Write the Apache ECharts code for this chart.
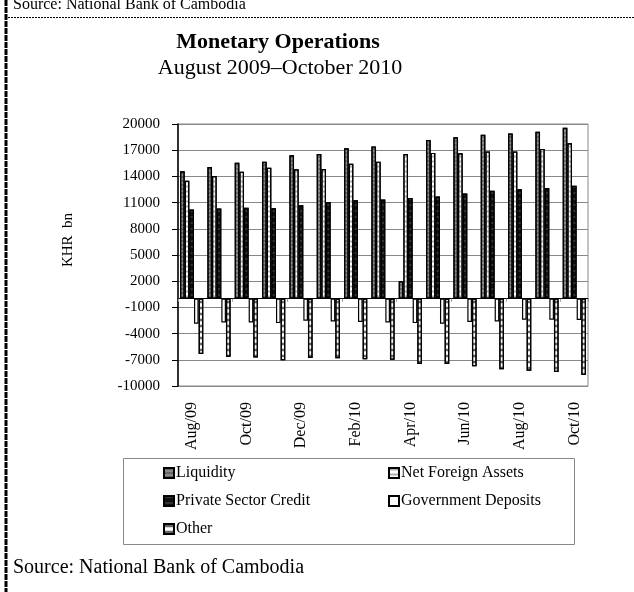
<!DOCTYPE html>
<html lang="en">
<head>
    <meta charset="UTF-8">
    <title>Monetary Operations</title>
    <script src="https://cdn.jsdelivr.net/npm/echarts@6/dist/echarts.min.js"></script>
    <style>
        body { margin: 0; background: #fff; }
    </style>
</head>
<body>
    <div id="chart" style="width: 634px; height: 592px;"></div>
    <script>
        // months, Aug 2009 - Oct 2010
        var months = ["Aug/09", "Sep/09", "Oct/09", "Nov/09", "Dec/09", "Jan/10", "Feb/10", "Mar/10",
            "Apr/10", "May/10", "Jun/10", "Jul/10", "Aug/10", "Sep/10", "Oct/10"]

        // KHR bn
        var liquidity = [14580, 15070, 15570, 15690, 16420, 16570, 17220, 17410, 1990, 18180, 18490, 18760, 18910, 19100, 19560]
        var netForeignAssets = [13500, 14040, 14540, 14990, 14810, 14840, 15450, 15690, 16570, 16690, 16650, 16840, 16840, 17150, 17800]
        var privateSectorCredit = [10200, 10320, 10400, 10360, 10700, 11080, 11280, 11350, 11540, 11700, 12050, 12350, 12540, 12660, 12920]
        var governmentDeposits = [-2880, -2720, -2720, -2800, -2530, -2610, -2680, -2720, -2800, -2880, -2680, -2610, -2420, -2420, -2450]
        var other = [-6330, -6640, -6750, -7060, -6790, -6830, -6940, -6980, -7480, -7480, -7740, -8090, -8250, -8400, -8750]

        var font = "'Liberation Serif', 'DejaVu Serif', serif"

        var chart = echarts.init(document.getElementById("chart"))

        function bar(name, data, fill, decal) {
            var style = { color: fill, borderColor: "#000", borderWidth: 1.2 }
            if (decal) style.decal = decal
            return {
                name: name,
                type: "bar",
                data: data,
                barGap: "0%",
                barCategoryGap: "15%",
                itemStyle: style
            }
        }

        var option = {
            animation: false,
            textStyle: { fontFamily: font, color: "#000" },
            title: [
                {
                    text: "Monetary Operations",
                    left: 273, top: 26, textAlign: "center",
                    textStyle: { fontFamily: font, fontSize: 22, fontWeight: "bold", color: "#000" }
                },
                {
                    text: "August 2009\u2013October 2010",
                    left: 275, top: 52, textAlign: "center",
                    textStyle: { fontFamily: font, fontSize: 22, fontWeight: "normal", color: "#000" }
                }
            ],
            grid: {
                left: 178, right: 46, top: 124, bottom: 206,
                show: true, borderColor: "#888", borderWidth: 1
            },
            legend: [
                {
                    data: ["Liquidity", "Private Sector Credit", "Other"],
                    orient: "vertical", left: 163, top: 465, padding: 0,
                    itemWidth: 10, itemHeight: 10, itemGap: 12,
                    icon: "rect",
                    textStyle: { fontFamily: font, fontSize: 16, color: "#000", padding: [0, 0, 0, -3] }
                },
                {
                    data: ["Net Foreign Assets", "Government Deposits"],
                    orient: "vertical", left: 388, top: 465, padding: 0,
                    itemWidth: 10, itemHeight: 10, itemGap: 12,
                    icon: "rect",
                    textStyle: { fontFamily: font, fontSize: 16, color: "#000", padding: [0, 0, 0, -3] }
                }
            ],
            xAxis: [
                {
                    type: "category",
                    data: months,
                    axisLine: { onZero: false, show: false },
                    axisTick: { show: false },
                    axisLabel: { interval: 1, rotate: 90, margin: 16, fontFamily: font, fontSize: 16, color: "#000" }
                },
                {
                    // zero line
                    type: "category",
                    data: months,
                    position: "bottom",
                    axisLine: { onZero: true, lineStyle: { color: "#000", width: 1.2 } },
                    axisTick: { show: true, interval: 1, length: 3, lineStyle: { color: "#999" } },
                    axisLabel: { show: false }
                }
            ],
            yAxis: {
                type: "value",
                min: -10000, max: 20000, interval: 3000,
                axisLine: { show: true, lineStyle: { color: "#000", width: 1.5 } },
                axisTick: { show: true, length: 6, lineStyle: { color: "#000" } },
                axisLabel: {
                    margin: 18, fontFamily: font, fontSize: 15, color: "#000",
                    formatter: function (v) { return String(v) }
                },
                splitLine: { lineStyle: { color: "#888", width: 1 } }
            },
            series: [
                bar("Liquidity", liquidity, "#8a8a8a", { symbol: "rect", symbolSize: 0.5, dashArrayX: [1, 0], dashArrayY: [2, 2], color: "#000" }),
                bar("Net Foreign Assets", netForeignAssets, "#fff", { symbol: "rect", symbolSize: 0.6, dashArrayX: [1, 0], dashArrayY: [3, 2], color: "#777" }),
                bar("Private Sector Credit", privateSectorCredit, "#111", { symbol: "rect", symbolSize: 0.4, dashArrayX: [1, 0], dashArrayY: [2, 4], color: "#bbb" }),
                bar("Government Deposits", governmentDeposits, "#fff"),
                bar("Other", other, "#fff", { symbol: "rect", symbolSize: 0.6, dashArrayX: [1, 0], dashArrayY: [4, 2], color: "#000" })
            ],
            graphic: [
                // top source line and dashed frame
                { type: "text", left: 13, top: -3, style: { text: "Source: National Bank of Cambodia", font: "16px " + font, fill: "#000" } },
                { type: "line", shape: { x1: 8, y1: 17.5, x2: 634, y2: 17.5 }, style: { stroke: "#000", lineWidth: 1, lineDash: [2, 1] } },
                { type: "line", shape: { x1: 6, y1: 0, x2: 6, y2: 592 }, style: { stroke: "#000", lineWidth: 3, lineDash: [6, 1] } },
                // y axis name
                { type: "text", x: 68, y: 240, rotation: Math.PI / 2, style: { text: "KHR  bn", font: "15px " + font, fill: "#000", align: "center", verticalAlign: "middle" } },
                // legend frame
                { type: "rect", shape: { x: 123.5, y: 458.5, width: 451, height: 86 }, style: { fill: "none", stroke: "#888", lineWidth: 1 }, z: -1 },
                // bottom source
                { type: "text", left: 13, top: 558, style: { text: "Source: National Bank of Cambodia", font: "20px " + font, fill: "#000" } }
            ]
        }

        chart.setOption(option)
    </script>
</body>
</html>
